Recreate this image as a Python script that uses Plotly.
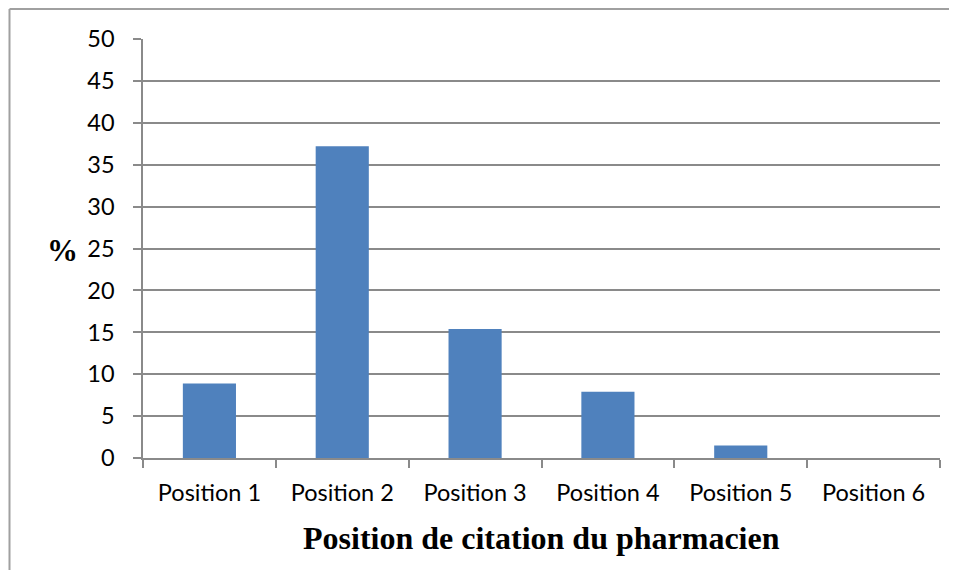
import plotly.graph_objects as go

categories = ["Position 1", "Position 2", "Position 3", "Position 4", "Position 5", "Position 6"]
values = [8.9, 37.2, 15.4, 7.9, 1.5, 0]
y_ticks = [0, 5, 10, 15, 20, 25, 30, 35, 40, 45, 50]

# page has an 8px body margin, so figure coordinates = page coordinates - 8
W, H = 941, 562
L, T = 135, 31
plot_right, plot_bottom = 932, 450
R, B = W - plot_right, H - plot_bottom
pw, ph = W - L - R, H - T - B

def px_x(p):
    return (p - L) / pw

def px_y(p):
    return 1 - (p - T) / ph

fig = go.Figure()
fig.add_trace(go.Bar(
    x=categories, y=values,
    marker=dict(color="#4F81BD", line=dict(width=0)),
    width=0.4,
))

grid = "#8A8A8A"
fig.update_layout(
    width=W, height=H,
    margin=dict(l=L, r=R, t=T, b=B),
    paper_bgcolor="white", plot_bgcolor="white",
    showlegend=False,
    font=dict(family="Lato, Carlito, Calibri, sans-serif", size=23.5, color="black"),
    xaxis=dict(
        type="category",
        showgrid=False,
        showline=True, linecolor=grid, linewidth=1.5,
        ticks="outside", tickson="boundaries", ticklen=8, tickcolor=grid, tickwidth=1.5,
        ticklabelstandoff=13,
        tickfont=dict(size=23.5),
        range=[-0.5, 5.5],
    ),
    yaxis=dict(
        range=[0, 50], tickvals=y_ticks,
        showgrid=True, gridcolor=grid, gridwidth=1.5,
        showline=True, linecolor=grid, linewidth=1.5,
        ticks="outside", ticklen=8, tickcolor=grid, tickwidth=1.5,
        ticklabelstandoff=14,
        zeroline=False,
        tickfont=dict(size=23.5),
    ),
    shapes=[
        dict(type="line", xref="paper", yref="paper",
             x0=px_x(1.5), x1=px_x(960), y0=px_y(1), y1=px_y(1),
             line=dict(color="#A0A0A0", width=2)),
        dict(type="line", xref="paper", yref="paper",
             x0=px_x(1.5), x1=px_x(1.5), y0=px_y(1), y1=px_y(600),
             line=dict(color="#A0A0A0", width=2)),
    ],
    annotations=[
        dict(text="<b>Position de citation du pharmacien</b>", xref="paper", yref="paper",
             x=px_x(533.5), y=px_y(530), showarrow=False, xanchor="center", yanchor="middle",
             font=dict(family="Liberation Serif, Times New Roman, serif", size=32, color="black")),
        dict(text="<b>%</b>", xref="paper", yref="paper",
             x=px_x(54.5), y=px_y(242), showarrow=False, xanchor="center", yanchor="middle",
             font=dict(family="Liberation Serif, Times New Roman, serif", size=31, color="black")),
    ],
)

fig.write_html("out.html")
